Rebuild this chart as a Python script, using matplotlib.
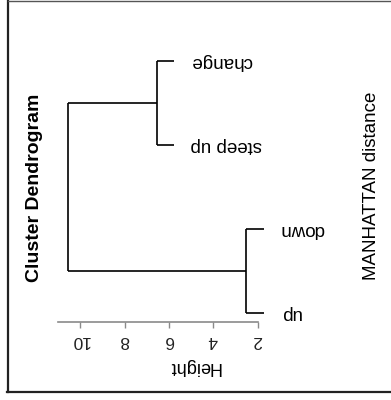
import matplotlib
matplotlib.use("Agg")
import matplotlib.pyplot as plt
from matplotlib.lines import Line2D

plt.rcParams['font.family'] = ['Liberation Sans', 'DejaVu Sans']

# Data
leaf_labels = ["change", "steep up", "down", "up"]
leaf_pos = [1, 2, 3, 4]
merge_pairs = [(0, 1), (2, 3), ("c0", "c1")]
merge_heights = [6.55, 2.53, 10.53]
hang = 0.8
height_ticks = [2, 4, 6, 8, 10]
title = "Cluster Dendrogram"
subtitle = "MANHATTAN distance"
axis_label = "Height"

W, H = 391, 400
fig = plt.figure(figsize=(W / 100, H / 100), dpi=100)
ax = fig.add_axes([0, 0, 1, 1])

px_per_unit = 44.4 / 2
x2_px = 257.7
ax.set_xlim(2 + x2_px / px_per_unit, 2 - (W - x2_px) / px_per_unit)
leaf_px = 61.0
leaf_step = 84.0
ax.set_ylim(1 + (H - leaf_px) / leaf_step, 1 - leaf_px / leaf_step)

lc = "black"
lw = 1.2
node_y = {}
node_h = {}
for i, (a, b) in enumerate(merge_pairs):
    h = merge_heights[i]
    ys = []
    for c in (a, b):
        if isinstance(c, int):
            cy = leaf_pos[c]
            ch = h - hang
        else:
            k = int(c[1:])
            cy = node_y[k]
            ch = node_h[k]
        ax.plot([h, ch], [cy, cy], color=lc, lw=lw, solid_capstyle='butt')
        ys.append(cy)
    ax.plot([h, h], [ys[0], ys[1]], color=lc, lw=lw, solid_capstyle='butt')
    node_y[i] = sum(ys) / 2
    node_h[i] = h

for i, lab in enumerate(leaf_labels):
    for j, (a, b) in enumerate(merge_pairs):
        if a == i or b == i:
            ph = merge_heights[j]
    ax.annotate(lab, xy=(ph - hang, leaf_pos[i]), xytext=(16, 0),
                textcoords='offset pixels', rotation=180,
                ha='left', va='center', fontsize=13.5, color='black')

for s in ['top', 'right', 'left']:
    ax.spines[s].set_visible(False)
axis_y = 4 + (322.7 - 313.3) / leaf_step
ax.spines['bottom'].set_position(('data', axis_y))
ax.spines['bottom'].set_bounds(2, 11)
ax.spines['bottom'].set_color('#8a8a8a')
ax.spines['bottom'].set_linewidth(1.2)
ax.set_xticks(height_ticks)
ax.set_xticklabels([str(t) for t in height_ticks], rotation=180, fontsize=12.5)
ax.tick_params(axis='x', direction='out', length=4.5, width=1.0, color='#8a8a8a',
               pad=3, labelcolor='#222222')
ax.set_yticks([])

fig.text(35 / W, 1 - 187.5 / H, title, rotation=90, ha='center', va='center',
         fontsize=14, fontweight='bold')
fig.text(372 / W, 1 - 186 / H, subtitle, rotation=90, ha='center', va='center',
         fontsize=13.5)
fig.text(194 / W, 1 - 367 / H, axis_label, rotation=180, ha='center', va='center',
         fontsize=13)

fig.add_artist(Line2D([7.5 / W, 7.5 / W], [1 - 392 / H, 1], transform=fig.transFigure,
                      color='#222222', lw=1.6))
fig.add_artist(Line2D([7.5 / W, 1], [1 - 0.5 / H, 1 - 0.5 / H], transform=fig.transFigure,
                      color='#555555', lw=1.0))
fig.add_artist(Line2D([7.0 / W, 1], [1 - 392 / H, 1 - 392 / H], transform=fig.transFigure,
                      color='#222222', lw=1.6))

fig.savefig("out.png", dpi=100)
